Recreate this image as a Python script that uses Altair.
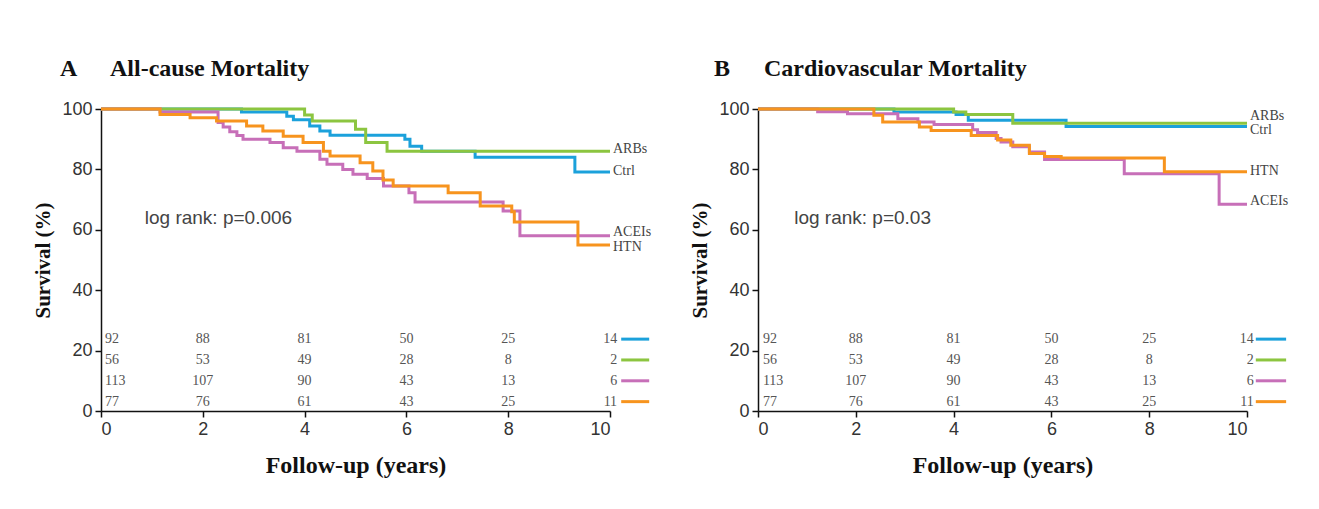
import altair as alt
import pandas as pd

groups = ["Ctrl", "ARBs", "ACEIs", "HTN"]
colors = ["#1ba1db", "#8cc540", "#c76fb8", "#f7941e"]

# ---- Panel A: all-cause mortality (years, survival %) ----
a_ctrl_t = [0, 2.76, 3.65, 3.78, 4.1, 4.3, 4.5, 5.97, 6.07, 6.3, 7.35, 9.31, 10]
a_ctrl_s = [100, 99, 97.6, 96.4, 94.4, 92.7, 91.3, 90, 87.7, 86, 84, 79.1, 79.1]
a_arbs_t = [0, 4.0, 4.15, 5.0, 5.2, 5.62, 10]
a_arbs_s = [100, 98, 96, 93.3, 88.9, 86, 86]
a_acei_t = [0, 1.16, 2.3, 2.4, 2.53, 2.67, 2.79, 3.32, 3.58, 3.85, 4.3, 4.44, 4.75,
            4.95, 5.23, 5.55, 6.05, 6.17, 7.9, 8.23, 10]
a_acei_s = [100, 99, 95.5, 94, 92.5, 91.2, 90, 88.9, 87.2, 86, 83.4, 81.7, 80,
            78.4, 77, 74.5, 72.3, 69.2, 66.2, 58, 58]
a_htn_t = [0, 1.16, 1.75, 2.27, 2.86, 3.18, 3.58, 3.97, 4.37, 4.5, 5.09, 5.34, 5.54,
           5.74, 6.82, 7.45, 8.07, 8.12, 9.37, 10]
a_htn_s = [100, 98.2, 97.1, 96, 94.4, 92.7, 91, 88.9, 86, 84.4, 82.2, 79.5, 76.5,
           74.5, 72.3, 67.9, 66, 62.6, 55, 55]

# ---- Panel B: cardiovascular mortality ----
b_ctrl_t = [0, 2.78, 4.05, 4.3, 6.3, 10]
b_ctrl_s = [100, 99, 98.2, 96.3, 94.2, 94.2]
b_arbs_t = [0, 4.0, 4.25, 5.21, 10]
b_arbs_s = [100, 99, 98.2, 95.3, 95.3]
b_acei_t = [0, 1.22, 1.83, 2.86, 3.27, 3.6, 4.39, 4.49, 4.87, 4.97, 5.21, 5.55, 5.86,
            7.49, 9.43, 10]
b_acei_s = [100, 99.1, 98.4, 96.8, 95.7, 94.9, 93.1, 92.2, 90.2, 89.1, 87.5, 85.8, 83.3,
            78.6, 68.5, 68.5]
b_htn_t = [0, 2.37, 2.55, 3.3, 3.54, 4.36, 4.9, 5.17, 5.55, 5.86, 6.2, 8.31, 10]
b_htn_s = [100, 97.9, 95.7, 94, 92.9, 91.2, 89.7, 88, 85.3, 84.3, 83.8, 79.2, 79.2]

# ---- Numbers at risk ----
risk_times = [0, 2, 4, 6, 8, 10]
risk_ctrl = [92, 88, 81, 50, 25, 14]
risk_arbs = [56, 53, 49, 28, 8, 2]
risk_acei = [113, 107, 90, 43, 13, 6]
risk_htn = [77, 76, 61, 43, 25, 11]

x_ticks = [0, 2, 4, 6, 8, 10]
y_ticks = [0, 20, 40, 60, 80, 100]

SERIF = "Liberation Serif"
SANS = "Liberation Sans"


def make_panel(curves, end_labels, letter, title, logrank, width,
               letter_x, title_x, lr_pos, first_col_t, legend_x):
    xenc = alt.X("t:Q", scale=alt.Scale(domain=[0, 10], nice=False),
                 axis=alt.Axis(values=x_ticks, title="Follow-up (years)"))
    yenc = alt.Y("s:Q", scale=alt.Scale(domain=[0, 100], nice=False),
                 axis=alt.Axis(values=y_ticks, title="Survival (%)"))
    layers = []
    for g, col in zip(groups, colors):
        t, s = curves[g]
        df = pd.DataFrame({"t": t, "s": s})
        layers.append(
            alt.Chart(df).mark_line(interpolate="step-after", color=col,
                                    strokeWidth=3).encode(x=xenc, y=yenc)
        )
    # end labels
    lab = pd.DataFrame({"t": [10] * 4, "s": [end_labels[g] for g in groups],
                        "lab": groups})
    layers.append(
        alt.Chart(lab).mark_text(align="left", baseline="middle", dx=3,
                                 font=SERIF, fontSize=14, color="#444")
        .encode(x=xenc, y=yenc, text="lab:N")
    )
    # numbers at risk
    rows = []
    risks = {"Ctrl": risk_ctrl, "ARBs": risk_arbs, "ACEIs": risk_acei, "HTN": risk_htn}
    for r, g in enumerate(groups):
        for c, tt in enumerate(risk_times):
            rows.append({"col": c, "t": tt, "s": 23.8 - 6.9 * r,
                         "n": str(risks[g][c]), "g": g})
    rdf = pd.DataFrame(rows)
    first = rdf[rdf.col == 0].assign(t=first_col_t)
    mid = rdf[(rdf.col > 0) & (rdf.col < 5)]
    last = rdf[rdf.col == 5].assign(t=10.14)
    for d, al in [(first, "left"), (mid, "center"), (last, "right")]:
        layers.append(
            alt.Chart(d).mark_text(align=al, baseline="middle", font=SERIF,
                                   fontSize=14, color="#555")
            .encode(x=xenc, y=yenc, text="n:N")
        )
    leg = pd.DataFrame({"t": [legend_x[0]] * 4, "t2": [legend_x[1]] * 4,
                        "s": [23.8 - 6.9 * r for r in range(4)], "g": groups})
    layers.append(
        alt.Chart(leg).mark_rule(strokeWidth=3).encode(
            x=xenc, x2="t2:Q", y=yenc,
            color=alt.Color("g:N", scale=alt.Scale(domain=groups, range=colors),
                            legend=None))
    )
    # log rank
    lr = pd.DataFrame({"t": [lr_pos[0]], "s": [lr_pos[1]], "lab": [logrank]})
    layers.append(
        alt.Chart(lr).mark_text(align="left", baseline="middle", font=SANS,
                                fontSize=19, color="#444")
        .encode(x=xenc, y=yenc, text="lab:N")
    )
    # titles
    tdf = pd.DataFrame({"lab": [letter]})
    layers.append(
        alt.Chart(tdf).mark_text(align="left", baseline="middle", font=SERIF,
                                 fontSize=24, fontWeight="bold", color="#111")
        .encode(x=alt.value(letter_x), y=alt.value(-40), text="lab:N")
    )
    tdf2 = pd.DataFrame({"lab": [title]})
    layers.append(
        alt.Chart(tdf2).mark_text(align="left", baseline="middle", font=SERIF,
                                  fontSize=24, fontWeight="bold", color="#111")
        .encode(x=alt.value(title_x), y=alt.value(-40), text="lab:N")
    )
    return alt.layer(*layers).properties(width=width, height=302)


panel_a = make_panel(
    {"Ctrl": (a_ctrl_t, a_ctrl_s), "ARBs": (a_arbs_t, a_arbs_s),
     "ACEIs": (a_acei_t, a_acei_s), "HTN": (a_htn_t, a_htn_s)},
    {"Ctrl": 79.6, "ARBs": 86.6, "ACEIs": 59.2, "HTN": 54.2},
    "A", "All-cause Mortality", "log rank: p=0.006", 509,
    -41, 9, (0.86, 63.9), 0.08, (10.22, 10.77))

panel_b = make_panel(
    {"Ctrl": (b_ctrl_t, b_ctrl_s), "ARBs": (b_arbs_t, b_arbs_s),
     "ACEIs": (b_acei_t, b_acei_s), "HTN": (b_htn_t, b_htn_s)},
    {"Ctrl": 93.0, "ARBs": 97.8, "ACEIs": 69.5, "HTN": 79.6},
    "B", "Cardiovascular Mortality", "log rank: p=0.03", 489,
    -44, 6, (0.74, 63.9), 0.1, (10.18, 10.8))

chart = (
    alt.hconcat(panel_a, panel_b, spacing=37)
    .properties(padding={"left": 24, "top": 49, "right": 5, "bottom": 5})
    .configure_view(stroke=None)
    .configure_axis(
        grid=False, domainColor="#111", domainWidth=1.5, tickColor="#111",
        tickWidth=1.5, tickSize=6, labelFont=SANS, labelFontSize=18,
        labelColor="#333", labelPadding=3, titleFont=SERIF,
        titleFontWeight="bold", titleColor="#111")
    .configure_axisY(titlePadding=8, titleFontSize=21)
    .configure_axisX(titlePadding=15, titleFontSize=24)
)

chart.save("out.html", embed_options={"renderer": "svg", "actions": False})
